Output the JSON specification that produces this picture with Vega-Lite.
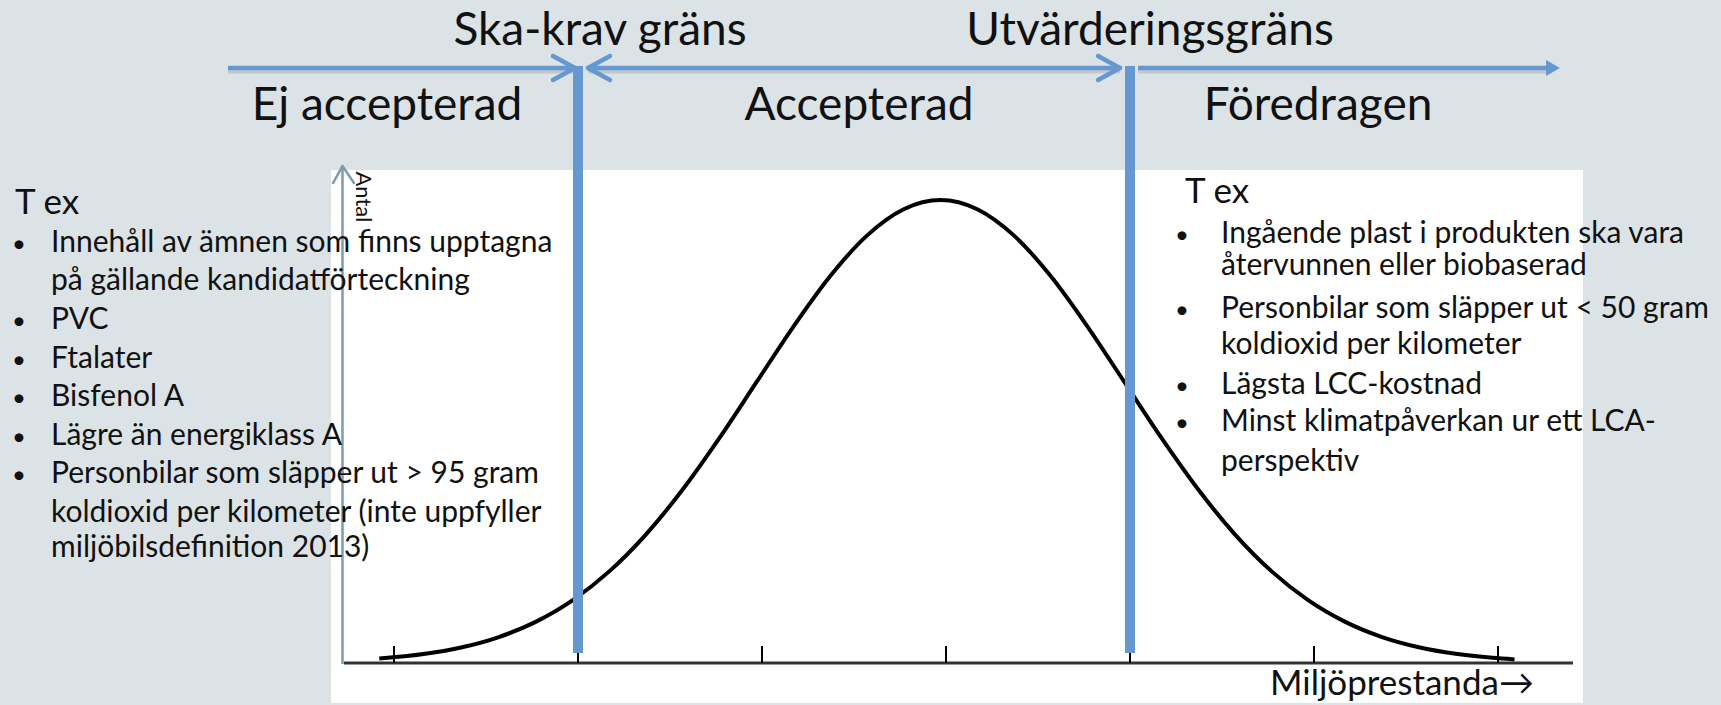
{
  "$schema": "https://vega.github.io/schema/vega-lite/v6.json",
  "width": 1721,
  "height": 705,
  "autosize": {"type": "fit", "contains": "padding"},
  "padding": 0,
  "background": "#dce3e7",
  "config": {"view": {"stroke": null}, "text": {"font": "Lato", "color": "#111111"}},
  "datasets": {
    "panel": [{"x": -3.342, "x2": 3.462, "y": 1.0648, "y2": -0.0864}],
    "curve": [
      {"x": -3.08, "y": 0.0096},
      {"x": -2.93, "y": 0.0149},
      {"x": -2.83, "y": 0.0198},
      {"x": -2.63, "y": 0.034},
      {"x": -2.43, "y": 0.0561},
      {"x": -2.23, "y": 0.0889},
      {"x": -2.03, "y": 0.1353},
      {"x": -1.83, "y": 0.1979},
      {"x": -1.63, "y": 0.278},
      {"x": -1.43, "y": 0.3753},
      {"x": -1.23, "y": 0.4868},
      {"x": -1.03, "y": 0.6065},
      {"x": -0.83, "y": 0.7261},
      {"x": -0.63, "y": 0.8353},
      {"x": -0.43, "y": 0.9231},
      {"x": -0.23, "y": 0.9802},
      {"x": -0.03, "y": 1.0},
      {"x": 0.17, "y": 0.9802},
      {"x": 0.37, "y": 0.9231},
      {"x": 0.57, "y": 0.8353},
      {"x": 0.77, "y": 0.7261},
      {"x": 0.97, "y": 0.6065},
      {"x": 1.17, "y": 0.4868},
      {"x": 1.37, "y": 0.3753},
      {"x": 1.57, "y": 0.278},
      {"x": 1.77, "y": 0.1979},
      {"x": 1.97, "y": 0.1353},
      {"x": 2.17, "y": 0.0889},
      {"x": 2.37, "y": 0.0561},
      {"x": 2.57, "y": 0.034},
      {"x": 2.77, "y": 0.0198},
      {"x": 2.97, "y": 0.0111},
      {"x": 3.09, "y": 0.0077}
    ],
    "ticks": [
      {"x": -3, "y": 0, "y2": 0.0367},
      {"x": -2, "y": 0, "y2": 0.0367},
      {"x": -1, "y": 0, "y2": 0.0367},
      {"x": 0, "y": 0, "y2": 0.0367},
      {"x": 1, "y": 0, "y2": 0.0367},
      {"x": 2, "y": 0, "y2": 0.0367},
      {"x": 3, "y": 0, "y2": 0.0367}
    ],
    "xaxis": [{"x": -3.2717, "x2": 3.4076, "y": 0}],
    "yaxis": [{"x": -3.2799, "y": -0.0022, "y2": 1.0734}],
    "limits": [
      {"name": "Ska-krav gräns", "x": -2, "y": 0.0216, "y2": 1.2894},
      {"name": "Utvärderingsgräns", "x": 1, "y": 0.0216, "y2": 1.2894}
    ],
    "segments": [
      {"x": -3.9022, "x2": -2.0272, "y": 1.2851},
      {"x": -1.9457, "x2": 0.9457, "y": 1.2851},
      {"x": 1.0435, "x2": 3.2717, "y": 1.2851}
    ],
    "chevrons": [
      {"x": -2.1359, "y": 1.311, "x2": -2.0163, "y2": 1.2851},
      {"x": -2.1359, "y": 1.2592, "x2": -2.0163, "y2": 1.2851},
      {"x": -1.8261, "y": 1.311, "x2": -1.9457, "y2": 1.2851},
      {"x": -1.8261, "y": 1.2592, "x2": -1.9457, "y2": 1.2851},
      {"x": 0.8261, "y": 1.311, "x2": 0.9457, "y2": 1.2851},
      {"x": 0.8261, "y": 1.2592, "x2": 0.9457, "y2": 1.2851}
    ],
    "heads": [{"x": 3.2989, "y": 1.2851}],
    "yarrow": [
      {"x": -3.3315, "y": 1.0367, "x2": -3.2799, "y2": 1.0734},
      {"x": -3.2174, "y": 1.0367, "x2": -3.2799, "y2": 1.0734}
    ],
    "headings": [
      {"text": "Ska-krav gräns", "x": -1.8804, "y": 1.3348},
      {"text": "Utvärderingsgräns", "x": 1.1087, "y": 1.3348},
      {"text": "Ej accepterad", "x": -3.038, "y": 1.1728},
      {"text": "Accepterad", "x": -0.4728, "y": 1.1728},
      {"text": "Föredragen", "x": 2.0217, "y": 1.1728}
    ],
    "tex": [
      {"text": "T ex", "x": -5.0598, "y": 0.9698},
      {"text": "T ex", "x": 1.2989, "y": 0.9935}
    ],
    "items": [
      {"text": "Innehåll av ämnen som finns upptagna", "x": -4.8641, "y": 0.8877},
      {"text": "på gällande kandidatförteckning", "x": -4.8641, "y": 0.8056},
      {"text": "PVC", "x": -4.8641, "y": 0.7214},
      {"text": "Ftalater", "x": -4.8641, "y": 0.6371},
      {"text": "Bisfenol A", "x": -4.8641, "y": 0.5551},
      {"text": "Lägre än energiklass A", "x": -4.8641, "y": 0.4708},
      {"text": "Personbilar som släpper ut > 95 gram", "x": -4.8641, "y": 0.3888},
      {"text": "koldioxid per kilometer (inte uppfyller", "x": -4.8641, "y": 0.3045},
      {"text": "miljöbilsdefinition 2013)", "x": -4.8641, "y": 0.2289},
      {"text": "Ingående plast i produkten ska vara", "x": 1.4946, "y": 0.9071},
      {"text": "återvunnen eller biobaserad", "x": 1.4946, "y": 0.838},
      {"text": "Personbilar som släpper ut < 50 gram", "x": 1.4946, "y": 0.7451},
      {"text": "koldioxid per kilometer", "x": 1.4946, "y": 0.6674},
      {"text": "Lägsta LCC-kostnad", "x": 1.4946, "y": 0.581},
      {"text": "Minst klimatpåverkan ur ett LCA-", "x": 1.4946, "y": 0.5011},
      {"text": "perspektiv", "x": 1.4946, "y": 0.4147}
    ],
    "bullets": [
      {"x": -5.038, "y": 0.8877},
      {"x": -5.038, "y": 0.7214},
      {"x": -5.038, "y": 0.6371},
      {"x": -5.038, "y": 0.5551},
      {"x": -5.038, "y": 0.4708},
      {"x": -5.038, "y": 0.3888},
      {"x": 1.2826, "y": 0.9071},
      {"x": 1.2826, "y": 0.7451},
      {"x": 1.2826, "y": 0.581},
      {"x": 1.2826, "y": 0.5011}
    ],
    "axislabels": [
      {"text": "Antal", "x": -3.1685, "y": 1.0065, "kind": "y"},
      {"text": "Miljöprestanda→", "x": 1.7609, "y": -0.0691, "kind": "x"}
    ]
  },
  "encoding": {
    "x": {"field": "x", "type": "quantitative", "scale": {"domain": [-5.1413, 4.212], "nice": false, "zero": false}, "axis": null},
    "y": {"field": "y", "type": "quantitative", "scale": {"domain": [-0.0907, 1.432], "nice": false, "zero": false}, "axis": null}
  },
  "layer": [
    {
      "data": {"name": "panel"},
      "mark": {"type": "rect", "fill": "#ffffff"},
      "encoding": {"x2": {"field": "x2"}, "y2": {"field": "y2"}}
    },
    {
      "data": {"name": "curve"},
      "mark": {"type": "line", "color": "#000000", "strokeWidth": 4, "interpolate": "monotone"},
      "encoding": {}
    },
    {
      "data": {"name": "xaxis"},
      "mark": {"type": "rule", "color": "#333333", "strokeWidth": 3},
      "encoding": {"x2": {"field": "x2"}}
    },
    {
      "data": {"name": "ticks"},
      "mark": {"type": "rule", "color": "#000000", "strokeWidth": 2},
      "encoding": {"y2": {"field": "y2"}}
    },
    {
      "data": {"name": "yaxis"},
      "mark": {"type": "rule", "color": "#7f9bac", "strokeWidth": 2.5},
      "encoding": {"y2": {"field": "y2"}}
    },
    {
      "data": {"name": "yarrow"},
      "mark": {"type": "rule", "color": "#7f9bac", "strokeWidth": 2.5, "strokeCap": "round"},
      "encoding": {"x2": {"field": "x2"}, "y2": {"field": "y2"}}
    },
    {
      "data": {"name": "segments"},
      "mark": {"type": "rule", "color": "#8c969d", "strokeWidth": 5, "opacity": 0.35, "yOffset": 3},
      "encoding": {"x2": {"field": "x2"}}
    },
    {
      "data": {"name": "limits"},
      "mark": {"type": "rule", "color": "#6598d0", "strokeWidth": 10},
      "encoding": {"y2": {"field": "y2"}}
    },
    {
      "data": {"name": "segments"},
      "mark": {"type": "rule", "color": "#6598d0", "strokeWidth": 4.5},
      "encoding": {"x2": {"field": "x2"}}
    },
    {
      "data": {"name": "chevrons"},
      "mark": {"type": "rule", "color": "#6598d0", "strokeWidth": 4.5, "strokeCap": "round"},
      "encoding": {"x2": {"field": "x2"}, "y2": {"field": "y2"}}
    },
    {
      "data": {"name": "heads"},
      "mark": {"type": "point", "shape": "triangle-right", "filled": true, "size": 256, "color": "#6598d0", "opacity": 1},
      "encoding": {}
    },
    {
      "data": {"name": "headings"},
      "mark": {"type": "text", "fontSize": 46, "align": "center", "baseline": "alphabetic"},
      "encoding": {"text": {"field": "text"}}
    },
    {
      "data": {"name": "tex"},
      "mark": {"type": "text", "fontSize": 35, "align": "left", "baseline": "alphabetic"},
      "encoding": {"text": {"field": "text"}}
    },
    {
      "data": {"name": "items"},
      "mark": {"type": "text", "fontSize": 30, "align": "left", "baseline": "alphabetic"},
      "encoding": {"text": {"field": "text"}}
    },
    {
      "data": {"name": "bullets"},
      "mark": {"type": "text", "text": "•", "fontSize": 24, "align": "center", "baseline": "alphabetic"},
      "encoding": {}
    },
    {
      "data": {"name": "axislabels"},
      "transform": [{"filter": "datum.kind === 'y'"}],
      "mark": {"type": "text", "fontSize": 22, "angle": 90, "align": "center", "baseline": "middle"},
      "encoding": {"text": {"field": "text"}}
    },
    {
      "data": {"name": "axislabels"},
      "transform": [{"filter": "datum.kind === 'x'"}],
      "mark": {"type": "text", "fontSize": 35, "align": "left", "baseline": "alphabetic"},
      "encoding": {"text": {"field": "text"}}
    }
  ]
}
